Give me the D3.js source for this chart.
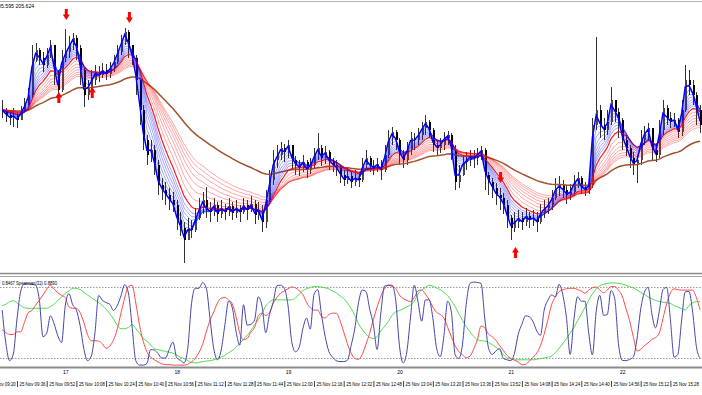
<!DOCTYPE html>
<html>
<head>
<meta charset="utf-8">
<script src="https://cdn.jsdelivr.net/npm/d3@7"></script>
<style>
  body { margin: 0; background: #fff; }
  svg { display: block; font-family: "Liberation Sans", Arial, sans-serif; }
</style>
</head>
<body>
<div id="chart"></div>
<script>
// 2-minute bars starting 25 Nov 09:28
const firstBarTime = "09:28";
const barMinutes = 2;

const closes = [
  204.90,204.85,204.82,204.84,204.80,204.88,204.95,205.05,205.40,205.50,
  205.42,205.35,205.45,205.55,205.28,205.10,205.42,205.48,205.55,205.62,
  205.52,205.30,205.05,205.12,205.20,205.28,205.25,205.30,205.26,205.32,
  205.38,205.48,205.58,205.68,205.55,205.42,205.20,204.90,204.60,204.45,
  204.50,204.35,204.15,204.10,204.05,204.00,203.95,203.80,203.72,203.60,
  203.72,203.70,203.82,203.92,204.00,203.90,203.88,203.95,203.86,203.92,
  203.88,203.94,203.87,203.92,203.88,203.95,203.90,203.96,203.85,203.90,
  203.78,204.00,204.20,204.40,204.45,204.52,204.48,204.55,204.40,204.35,
  204.32,204.38,204.30,204.35,204.45,204.52,204.42,204.48,204.38,204.35,
  204.32,204.25,204.20,204.24,204.18,204.22,204.20,204.35,204.42,204.34,
  204.32,204.36,204.30,204.45,204.62,204.68,204.60,204.45,204.40,204.50,
  204.62,204.60,204.65,204.72,204.78,204.70,204.55,204.52,204.55,204.62,
  204.65,204.50,204.18,204.25,204.38,204.40,204.44,204.42,204.46,204.50,
  204.25,204.18,204.12,204.05,204.02,203.95,203.82,203.72,203.78,203.82,
  203.78,203.84,203.80,203.82,203.78,203.88,203.92,203.95,204.02,204.12,
  204.15,204.10,204.05,204.08,204.18,204.22,204.12,204.10,204.15,204.75,
  204.90,204.75,204.70,204.78,205.00,204.88,204.80,204.60,204.52,204.42,
  204.35,204.40,204.60,204.68,204.72,204.50,204.45,204.70,204.92,204.82,
  204.78,204.80,204.68,204.90,205.20,205.15,205.05,204.90,204.75
];
const highs = [
  205.00,204.92,204.90,204.92,204.88,204.94,205.02,205.12,205.55,205.57,
  205.52,205.48,205.52,205.60,205.55,205.30,205.50,205.71,205.64,205.67,
  205.65,205.55,205.32,205.20,205.30,205.35,205.34,205.37,205.36,205.38,
  205.45,205.55,205.65,205.72,205.70,205.52,205.45,205.22,204.95,204.65,
  204.60,204.55,204.40,204.22,204.18,204.12,204.08,204.00,203.88,203.78,
  203.82,203.80,203.92,204.02,204.08,204.13,203.98,204.02,203.98,204.00,
  203.96,204.02,203.98,204.00,203.95,204.02,204.00,204.04,204.00,203.98,
  203.95,204.10,204.30,204.50,204.55,204.58,204.56,204.60,204.54,204.44,
  204.40,204.45,204.40,204.42,204.52,204.67,204.55,204.54,204.50,204.42,
  204.40,204.35,204.30,204.32,204.28,204.30,204.28,204.42,204.50,204.44,
  204.40,204.42,204.40,204.55,204.70,204.73,204.70,204.62,204.50,204.58,
  204.68,204.67,204.72,204.78,204.85,204.80,204.72,204.60,204.62,204.68,
  204.69,204.67,204.55,204.35,204.45,204.48,204.50,204.50,204.52,204.54,
  204.52,204.28,204.22,204.17,204.12,204.07,204.00,203.85,203.88,203.90,
  203.88,203.92,203.88,203.90,203.88,203.96,204.00,204.02,204.10,204.22,
  204.24,204.20,204.15,204.16,204.25,204.28,204.24,204.18,204.22,204.82,
  205.63,204.95,204.82,204.90,205.13,205.00,204.92,204.82,204.65,204.55,
  204.48,204.45,204.70,204.74,204.77,204.72,204.55,204.80,205.00,204.95,
  204.88,204.87,204.82,205.00,205.35,205.30,205.20,205.08,204.95
];
const lows = [
  204.82,204.78,204.75,204.73,204.72,204.82,204.88,204.95,205.02,205.38,
  205.35,205.28,205.32,205.42,205.15,205.00,205.08,205.38,205.42,205.50,
  205.40,205.15,204.93,205.00,205.05,205.15,205.18,205.22,205.20,205.22,
  205.28,205.36,205.45,205.55,205.42,205.35,205.05,204.75,204.50,204.35,
  204.38,204.25,204.05,204.00,203.95,203.90,203.88,203.70,203.64,203.37,
  203.60,203.62,203.68,203.80,203.86,203.82,203.78,203.84,203.78,203.82,
  203.80,203.84,203.80,203.82,203.78,203.86,203.80,203.88,203.76,203.80,
  203.68,203.72,203.98,204.15,204.32,204.40,204.38,204.42,204.30,204.25,
  204.24,204.28,204.22,204.26,204.32,204.40,204.34,204.36,204.30,204.28,
  204.24,204.17,204.14,204.16,204.12,204.14,204.13,204.18,204.32,204.28,
  204.25,204.28,204.20,204.28,204.42,204.55,204.50,204.35,204.32,204.35,
  204.45,204.50,204.55,204.60,204.65,204.62,204.48,204.45,204.47,204.50,
  204.55,204.40,204.10,204.12,204.24,204.30,204.34,204.32,204.35,204.40,
  204.10,204.05,204.02,203.95,203.90,203.86,203.72,203.60,203.68,203.72,
  203.70,203.74,203.72,203.74,203.68,203.76,203.82,203.86,203.90,204.00,
  204.04,204.02,203.96,204.00,204.04,204.12,204.06,204.04,204.06,204.12,
  204.70,204.62,204.60,204.65,204.75,204.78,204.62,204.50,204.44,204.32,
  204.25,204.17,204.35,204.55,204.60,204.40,204.38,204.42,204.65,204.75,
  204.72,204.73,204.62,204.64,204.88,205.05,204.95,204.75,204.67
];

// moving average ribbon periods (in bars)
const fastPeriods = [1.5, 2.5, 3.5, 4.5, 5.5, 6.5, 7.5, 8.5];
const slowPeriods = [10, 12.5, 15, 17.5, 20, 22.5, 25, 27.5];
const trendPeriod = 50;

// signal arrows: bar index and tip price
const downArrowBars = [17, 34, 134];
const downArrowPrices = [205.80, 205.77, 204.17];
const upArrowBars = [15, 24, 138];
const upArrowPrices = [205.08, 205.13, 203.53];

// lower window: Spearman(32) and its two signal lines
const spearman = [
  0.28,-0.47,-0.86,-0.71,0.08,0.70,0.87,0.87,0.86,0.84,
  0.52,-0.32,-0.24,0.15,-0.03,-0.30,-0.45,0.38,0.65,0.40,
  0.28,-0.07,-0.59,-0.86,-0.76,-0.23,0.61,0.50,0.45,0.41,
  0.27,0.38,0.60,0.85,0.67,-0.09,-0.86,-0.96,-0.96,-0.92,
  -0.61,-0.62,-0.70,-0.80,-0.80,-0.61,-0.44,-0.79,-0.85,-0.91,
  -0.58,0.42,0.77,0.77,0.90,0.77,0.08,-0.59,-0.84,-0.62,
  -0.05,0.48,0.33,-0.20,-0.51,0.40,-0.06,-0.04,0.06,0.58,
  0.37,-0.23,0.18,0.45,0.83,0.84,0.77,0.38,-0.43,-0.66,
  -0.56,-0.14,0.10,-0.15,0.63,0.74,0.19,-0.31,-0.65,-0.78,
  -0.86,-0.88,-0.88,-0.85,-0.52,-0.13,0.45,0.73,0.70,0.30,
  -0.05,-0.61,0.21,0.82,0.84,0.84,0.51,-0.51,-0.91,-0.66,
  0.12,0.84,0.48,0.03,0.51,0.51,0.11,-0.57,-0.77,-0.30,
  0.48,0.24,-0.72,-0.81,-0.49,0.41,0.88,0.91,0.90,0.88,
  0.10,-0.57,-0.72,-0.64,-0.59,-0.81,-0.84,-0.86,-0.69,-0.27,
  -0.04,0.15,0.13,0.02,-0.19,-0.29,0.28,0.50,0.62,0.58,
  0.86,0.63,0.11,-0.72,0.06,0.58,0.48,0.48,-0.24,-0.73,
  0.24,0.61,0.16,0.18,0.72,0.54,-0.47,-0.85,-0.86,-0.83,
  -0.78,-0.37,0.30,0.68,0.79,0.20,-0.12,0.25,0.74,0.79,
  0.06,-0.78,-0.72,0.03,0.69,0.70,0.23,-0.54,-0.81
];
const signalRed = [
  -0.16,-0.23,-0.27,-0.27,-0.21,-0.21,0.00,0.22,0.27,0.39,
  0.50,0.62,0.75,0.84,0.75,0.67,0.61,0.56,0.35,0.32,
  0.32,0.22,0.00,-0.27,-0.41,-0.41,-0.42,-0.48,-0.58,-0.53,
  -0.39,-0.15,0.21,0.55,0.81,0.84,0.44,-0.06,-0.42,-0.66,
  -0.78,-0.84,-0.89,-0.93,-0.95,-0.95,-0.96,-0.96,-0.96,-0.96,
  -0.94,-0.89,-0.81,-0.68,-0.49,-0.21,0.05,0.24,0.44,0.55,
  0.56,0.51,0.42,0.13,-0.24,-0.39,-0.36,-0.22,-0.11,0.15,
  0.21,0.16,0.22,0.43,0.56,0.66,0.71,0.76,0.80,0.78,
  0.72,0.63,0.45,0.33,0.28,0.28,0.14,0.10,0.18,0.21,
  0.21,0.04,-0.21,-0.48,-0.69,-0.81,-0.83,-0.72,-0.49,-0.24,
  0.07,0.35,0.59,0.76,0.84,0.81,0.77,0.62,0.54,0.50,
  0.47,0.56,0.71,0.73,0.64,0.52,0.35,0.23,0.18,0.10,
  -0.11,-0.32,-0.52,-0.65,-0.73,-0.79,-0.76,-0.60,-0.39,-0.08,
  -0.12,-0.26,-0.32,-0.40,-0.52,-0.63,-0.74,-0.81,-0.85,-0.89,
  -0.95,-0.94,-0.87,-0.78,-0.69,-0.52,-0.26,0.06,0.40,0.57,
  0.69,0.74,0.76,0.77,0.77,0.74,0.71,0.66,0.73,0.78,
  0.80,0.73,0.67,0.73,0.81,0.81,0.73,0.60,0.32,0.04,
  -0.32,-0.64,-0.61,-0.52,-0.46,-0.38,-0.34,-0.24,0.09,0.43,
  0.66,0.76,0.74,0.73,0.73,0.73,0.73,0.56,0.28
];
const signalGreen = [
  0.38,0.41,0.47,0.49,0.44,0.38,0.33,0.32,0.32,0.32,
  0.32,0.32,0.32,0.36,0.41,0.50,0.57,0.66,0.71,0.77,
  0.77,0.74,0.68,0.62,0.56,0.50,0.45,0.38,0.30,0.20,
  0.08,-0.06,-0.14,-0.14,-0.11,-0.05,-0.14,-0.24,-0.36,-0.42,
  -0.51,-0.59,-0.61,-0.63,-0.65,-0.67,-0.69,-0.73,-0.78,-0.81,
  -0.86,-0.90,-0.91,-0.90,-0.88,-0.87,-0.86,-0.84,-0.81,-0.78,
  -0.74,-0.68,-0.63,-0.56,-0.47,-0.38,-0.29,-0.18,-0.05,0.07,
  0.20,0.37,0.46,0.51,0.51,0.51,0.51,0.51,0.51,0.55,
  0.63,0.72,0.76,0.79,0.81,0.81,0.80,0.78,0.76,0.71,
  0.67,0.60,0.54,0.44,0.32,0.16,-0.03,-0.16,-0.26,-0.34,
  -0.36,-0.32,-0.19,-0.09,0.02,0.16,0.24,0.27,0.31,0.35,
  0.40,0.48,0.64,0.73,0.79,0.84,0.82,0.78,0.74,0.68,
  0.61,0.49,0.36,0.20,0.05,-0.09,-0.21,-0.31,-0.39,-0.41,
  -0.42,-0.45,-0.50,-0.56,-0.62,-0.72,-0.80,-0.82,-0.84,-0.84,
  -0.84,-0.84,-0.84,-0.84,-0.83,-0.81,-0.80,-0.78,-0.75,-0.68,
  -0.58,-0.48,-0.36,-0.24,-0.11,0.04,0.19,0.34,0.50,0.65,
  0.75,0.83,0.86,0.88,0.89,0.89,0.88,0.87,0.84,0.81,
  0.78,0.73,0.68,0.63,0.58,0.53,0.50,0.47,0.46,0.44,
  0.43,0.38,0.35,0.31,0.28,0.38,0.44,0.47,0.47
];
const oscLevels = [0.8, -0.8];

// axis labels
const tickTimes = ["09:20","09:36","09:52","10:08","10:24","10:40","10:56","11:12",
  "11:28","11:44","12:00","12:16","12:32","12:48","13:04","13:20","13:36","13:52",
  "14:08","14:24","14:40","14:56","15:12","15:28"];
const hourTimes = ["10:00","11:00","12:00","13:00","14:00","15:00"];
const hourLabels = ["17","18","19","20","21","22"];

const w = 702, h = 395;
const mainTop = 2, mainBottom = 273, subTop = 277, subBottom = 367;

const parseHM = s => {
  const p = s.split(":").map(Number);
  return new Date(2023, 10, 25, p[0], p[1]);
};
const firstBar = parseHM(firstBarTime);
const barTimes = closes.map((d, i) => d3.timeMinute.offset(firstBar, i * barMinutes));

const bars = closes.map((c, i) => {
  const o = i ? closes[i - 1] : c;
  return { t: barTimes[i], o: o, c: c,
           hi: Math.max(highs[i], o, c), lo: Math.min(lows[i], o, c) };
});

const xScale = d3.scaleTime().domain([parseHM("09:36"), parseHM("15:28")]).range([17, 670.4]);
const yScale = d3.scaleLinear().domain([203.28, 206.0]).range([272, 0]);
const oscScale = d3.scaleLinear().domain([-1, 1]).range([366.9, 278.1]);

function ema(values, n) {
  const a = 2 / (n + 1);
  let e = values[0];
  return values.map(v => (e = e + a * (v - e)));
}

const svg = d3.select("#chart").append("svg").attr("width", w).attr("height", h);

const defs = svg.append("defs");
defs.append("clipPath").attr("id", "clip-main")
    .append("rect").attr("x", 0).attr("y", mainTop).attr("width", w).attr("height", mainBottom - mainTop);
defs.append("clipPath").attr("id", "clip-sub")
    .append("rect").attr("x", 0).attr("y", subTop).attr("width", w).attr("height", subBottom - subTop);

// panel borders
svg.append("line").attr("x1", 0).attr("x2", w).attr("y1", 1.5).attr("y2", 1.5)
   .attr("stroke", "#b4b4b4").attr("stroke-width", 1);
svg.append("line").attr("x1", 0).attr("x2", w).attr("y1", mainBottom + 0.5).attr("y2", mainBottom + 0.5)
   .attr("stroke", "#8c8c8c").attr("stroke-width", 1.5);
svg.append("line").attr("x1", 0).attr("x2", w).attr("y1", subTop - 0.5).attr("y2", subTop - 0.5)
   .attr("stroke", "#a8a8a8").attr("stroke-width", 1);
svg.append("line").attr("x1", 0).attr("x2", w).attr("y1", subBottom + 0.5).attr("y2", subBottom + 0.5)
   .attr("stroke", "#8c8c8c").attr("stroke-width", 2);

// main window
const gMain = svg.append("g").attr("clip-path", "url(#clip-main)");

const candle = gMain.selectAll("g.candle").data(bars).enter().append("g").attr("class", "candle");
candle.append("line")
      .attr("x1", d => Math.round(xScale(d.t)) + 0.5)
      .attr("x2", d => Math.round(xScale(d.t)) + 0.5)
      .attr("y1", d => yScale(d.hi))
      .attr("y2", d => yScale(d.lo))
      .attr("stroke", "#333").attr("stroke-width", 1);
candle.append("rect")
      .attr("x", d => Math.round(xScale(d.t)))
      .attr("width", 2)
      .attr("y", d => yScale(Math.max(d.o, d.c)))
      .attr("height", d => Math.max(1, Math.abs(yScale(d.o) - yScale(d.c))))
      .attr("fill", d => d.c >= d.o ? "#4a4a4a" : "#000");

const maLine = d3.line().x((d, i) => xScale(barTimes[i])).y(d => yScale(d));

gMain.append("path").attr("d", maLine(ema(closes, trendPeriod)))
     .attr("fill", "none").attr("stroke", "#a0522d").attr("stroke-width", 1.5);

slowPeriods.slice().reverse().forEach(n => {
  const thick = n === slowPeriods[0];
  gMain.append("path").attr("d", maLine(ema(closes, n)))
       .attr("fill", "none")
       .attr("stroke", "#ff0000")
       .attr("stroke-opacity", thick ? 0.9 : 0.5)
       .attr("stroke-width", thick ? 1.2 : 0.7);
});

fastPeriods.slice().reverse().forEach(n => {
  const thick = n === fastPeriods[0];
  gMain.append("path").attr("d", maLine(ema(closes, n)))
       .attr("fill", "none")
       .attr("stroke", "#0000ff")
       .attr("stroke-opacity", thick ? 1 : 0.5)
       .attr("stroke-width", thick ? 1.5 : 0.7);
});

// signal arrows
function arrowPath(x, y, dir) {
  // dir = 1 points down (tip at bottom), -1 points up
  const s = dir;
  return "M" + (x - 1.5) + "," + (y - 11 * s) +
         "L" + (x + 1.5) + "," + (y - 11 * s) +
         "L" + (x + 1.5) + "," + (y - 5.5 * s) +
         "L" + (x + 3.5) + "," + (y - 5.5 * s) +
         "L" + x + "," + y +
         "L" + (x - 3.5) + "," + (y - 5.5 * s) +
         "L" + (x - 1.5) + "," + (y - 5.5 * s) + "Z";
}
gMain.selectAll("path.down").data(downArrowBars).enter().append("path")
     .attr("class", "down")
     .attr("d", (b, i) => arrowPath(xScale(barTimes[b]) + 1, yScale(downArrowPrices[i]), 1))
     .attr("fill", "#ff0000");
gMain.selectAll("path.up").data(upArrowBars).enter().append("path")
     .attr("class", "up")
     .attr("d", (b, i) => arrowPath(xScale(barTimes[b]) + 1, yScale(upArrowPrices[i]), -1))
     .attr("fill", "#ff0000");

svg.append("text").attr("x", -4.8).attr("y", 7.5)
   .attr("font-size", 5.2).attr("fill", "#000")
   .text("205.595 205.624");

// lower window
const gSub = svg.append("g").attr("clip-path", "url(#clip-sub)");

gSub.selectAll("line.level").data(oscLevels).enter().append("line")
    .attr("class", "level")
    .attr("x1", 0).attr("x2", w)
    .attr("y1", d => Math.round(oscScale(d)) + 0.5)
    .attr("y2", d => Math.round(oscScale(d)) + 0.5)
    .attr("stroke", "#9a9a9a").attr("stroke-width", 1).attr("stroke-dasharray", "1.5,1.5");

const oscLine = d3.line().x((d, i) => xScale(barTimes[i])).y(d => oscScale(d)).curve(d3.curveMonotoneX);

gSub.append("path").attr("d", oscLine(signalGreen))
    .attr("fill", "none").attr("stroke", "#4fdc4f").attr("stroke-width", 1);
gSub.append("path").attr("d", oscLine(signalRed))
    .attr("fill", "none").attr("stroke", "#ff4a4a").attr("stroke-width", 1);
gSub.append("path").attr("d", oscLine(spearman))
    .attr("fill", "none").attr("stroke", "#4646aa").attr("stroke-width", 1);

svg.append("text").attr("x", 2).attr("y", 284.5)
   .attr("font-size", 5.2).attr("fill", "#000")
   .attr("textLength", 55).attr("lengthAdjust", "spacingAndGlyphs")
   .text("0.8467  Spearman(32) 0.8890");

// hour row under the lower window
const hourAxis = d3.axisBottom(xScale)
                   .tickValues(hourTimes.map(parseHM))
                   .tickFormat((d, i) => hourLabels[i])
                   .tickSize(0).tickSizeOuter(0);
const gHour = svg.append("g").attr("transform", "translate(0," + (subBottom + 1) + ")").call(hourAxis);
gHour.select(".domain").remove();
gHour.selectAll(".tick text")
     .attr("text-anchor", "start").attr("x", 1).attr("y", 5.5).attr("dy", 0)
     .attr("font-size", 5).attr("font-family", "Liberation Sans, Arial, sans-serif").attr("fill", "#000");

// time axis
const timeAxis = d3.axisBottom(xScale)
                   .tickValues(tickTimes.map(parseHM))
                   .tickFormat(d3.timeFormat("%d %b %H:%M"))
                   .tickSize(6).tickSizeOuter(0);
const gTime = svg.append("g").attr("transform", "translate(0,381)").call(timeAxis);
gTime.select(".domain").remove();
gTime.selectAll(".tick line").attr("stroke", "#444");
gTime.selectAll(".tick text")
     .attr("text-anchor", "start").attr("x", 2).attr("y", 5.3).attr("dy", 0)
     .attr("font-size", 5.2).attr("font-family", "Liberation Sans, Arial, sans-serif").attr("fill", "#000")
     .attr("textLength", 26).attr("lengthAdjust", "spacingAndGlyphs");
</script>
</body>
</html>
